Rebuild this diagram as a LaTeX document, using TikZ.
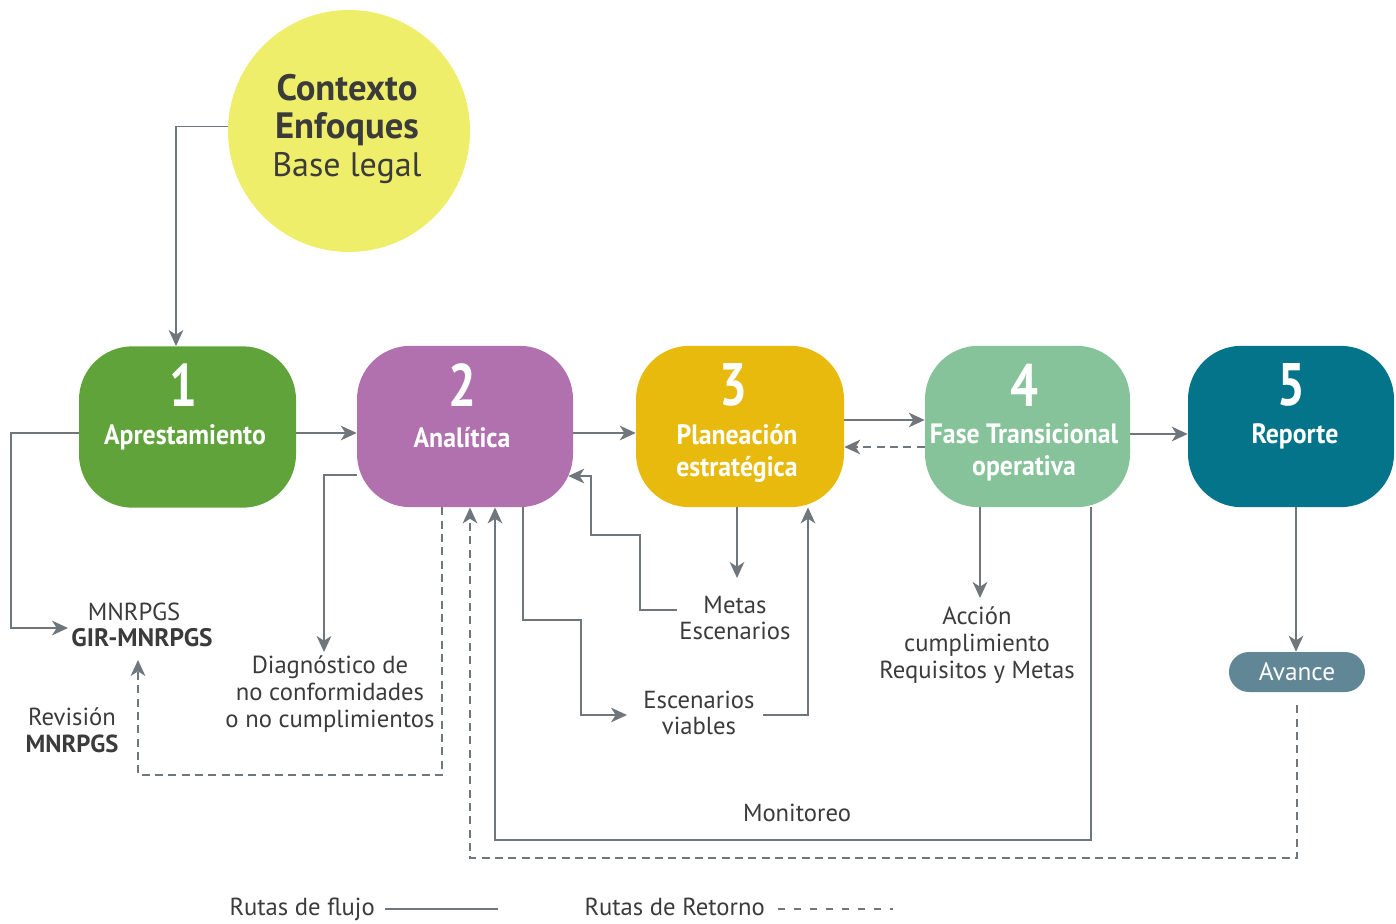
\documentclass[tikz,border=0pt]{standalone}
\usepackage{fontspec}
\setmainfont{PT Sans}
\newfontfamily\condf[FakeStretch=0.92]{PT Sans}
\newfontfamily\numf[FakeStretch=0.82]{PT Sans}
\usetikzlibrary{arrows.meta,calc,backgrounds}
\definecolor{cgreen}{HTML}{5FA33A}
\definecolor{cpurple}{HTML}{B071AE}
\definecolor{cgold}{HTML}{E8BA0E}
\definecolor{cmint}{HTML}{86C39A}
\definecolor{cteal}{HTML}{04748B}
\definecolor{cyellow}{HTML}{EFEE6A}
\definecolor{cslate}{HTML}{618796}
\definecolor{lgray}{HTML}{70777C}
\definecolor{dgray}{HTML}{3B3B3B}
\begin{document}
\begin{tikzpicture}[x=0.75pt,y=-0.75pt,
  flow/.style={draw=lgray, line width=1pt, -{Stealth[length=12pt,width=11pt,inset=3.5pt]}},
  plain/.style={draw=lgray, line width=1pt},
  ret/.style={dash pattern=on 6pt off 4pt},
  box/.style={rounded corners=40pt, inner sep=0pt, minimum height=121pt},
  num/.style={text=white, font=\numf\bfseries\fontsize{45}{45}\selectfont, inner sep=0pt},
  blbl/.style={text=white, font=\condf\bfseries\fontsize{21}{24}\selectfont, align=center, inner sep=0pt},
  lbl/.style={text=dgray, font=\fontsize{18.5}{20}\selectfont, align=center, inner sep=0pt},
]
\useasboundingbox (0,0) rectangle (1396,924);

% context circle
\node[circle, fill=cyellow, minimum size=181.5pt, inner sep=0pt] (ctx) at (349,131) {};
\node[lbl, font=\fontsize{25.5}{28.5}\selectfont] (ctxt) at (347,129)
  {{\bfseries\fontsize{27.5}{28.5}\selectfont Contexto}\\{\bfseries\fontsize{27.5}{28.5}\selectfont Enfoques}\\Base legal};

% phase boxes
\node[box, fill=cgreen, minimum width=162.75pt] (b1) at (187.5,427) {};
\node[box, fill=cpurple, minimum width=162pt] (b2) at (465,426.5) {};
\node[box, fill=cgold, minimum width=156pt] (b3) at (740,426.5) {};
\node[box, fill=cmint, minimum width=153.75pt] (b4) at (1027.5,426.5) {};
\node[box, fill=cteal, minimum width=154.5pt] (b5) at (1291,426.5) {};

\node[num] (n1) at (183,385) {1};
\node[num] (n2) at (462,385) {2};
\node[num] (n3) at (733,385) {3};
\node[num] (n4) at (1024,385) {4};
\node[num] (n5) at (1291,385) {5};

\node[blbl] (t1) at (185,437) {Aprestamiento};
\node[blbl] (t2) at (462,438) {Analítica};
\node[blbl] (t3) at (737,453) {Planeación\\estratégica};
\node[blbl] (t4) at (1024,452) {Fase Transicional\\operativa};
\node[blbl] (t5) at (1295,436) {Reporte};

% avance pill
\node[rounded corners=15pt, fill=cslate, minimum width=102pt, minimum height=30pt, inner sep=0pt,
      text=white, font=\fontsize{19}{19}\selectfont] (av) at (1297,672) {Avance};

% labels
\node[lbl] (mn1) at (134,612) {MNRPGS};
\node[lbl, font=\bfseries\fontsize{19}{20}\selectfont] (mn2) at (142,638) {GIR-MNRPGS};
\node[lbl] (rev) at (72,730) {Revisión\\\textbf{MNRPGS}};
\node[lbl] (diag) at (330,694) {Diagnóstico de\\no conformidades\\o no cumplimientos};
\node[lbl] (metas) at (735,618) {Metas\\Escenarios};
\node[lbl] (escv) at (699,713) {Escenarios\\viables};
\node[lbl] (acc) at (977,645) {Acción\\cumplimiento\\Requisitos y Metas};
\node[lbl] (mon) at (797,813) {Monitoreo};
\node[lbl, anchor=base east] (lg1) at (375,915) {Rutas de flujo};
\node[lbl, anchor=base east] (lg2) at (765,915) {Rutas de Retorno};

\coordinate (mnin) at (68,628);
\coordinate (mnup) at (138,660);
\coordinate (diagin) at (324,652);
\coordinate (escin) at (627,715);
\coordinate (metin) at (737,578);
\coordinate (accin) at (980,598);
\coordinate (lg1e) at (498,909);
\coordinate (lg2e) at (893,909);

\begin{scope}[on background layer]
\draw[flow] (ctx.178) -| (b1.north -| 176,0);
\draw[flow] (b1.east |- 0,433) -- (b2.west |- 0,433);
\draw[flow] (b2.east |- 0,433) -- (b3.west |- 0,433);
\draw[flow] (b3.east |- 0,420) -- (b4.west |- 0,420);
\draw[flow, ret] (b4.west |- 0,447) -- (b3.east |- 0,447);
\draw[flow] (b4.east |- 0,434) -- (b5.west |- 0,434);

\draw[flow] (b1.west |- 0,433) -| (11,628) -- (mnin);
\draw[flow, ret] (b2.south -| 442,0) |- (138,775) -- (mnup);
\draw[flow] (b2.west |- 0,475) -| (diagin);
\draw[flow] (b2.south -| 523,0) |- (581,620) |- (escin);
\draw[flow] ($(escv.east |- 0,715)+(8,0)$) -| (b3.south -| 808,0);
\draw[flow] (b3.south -| 737,0) -- (metin);
\draw[flow] ($(metas.west |- 0,610)+(-2,0)$) -| (640,535) -| (591,476) -- ($(b2.east |- 0,476)+(-5,0)$);
\draw[flow] (b4.south -| 980,0) -- (accin);
\draw[flow] (b4.south -| 1091,0) |- (495,840) -- (b2.south -| 495,0);
\draw[flow] (b5.south -| 1296,0) -- (av.north -| 1296,0);
\draw[flow, ret] ($(av.south)+(0,13)$) |- (470,858) -- (b2.south -| 470,0);

\draw[plain, line width=1.4pt] (lg1.east |- lg1e) ++(10,0) -- (lg1e);
\draw[plain, dash pattern=on 5pt off 7pt] (lg2.east |- lg2e) ++(13,0) -- (lg2e);
\end{scope}
\end{tikzpicture}
\end{document}
